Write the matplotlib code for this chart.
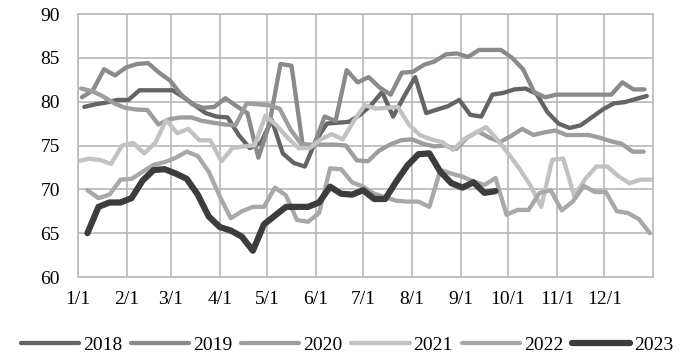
import matplotlib.pyplot as plt
import numpy as np

# weekly values by year
years = ['2018', '2019', '2020', '2021', '2022', '2023']

v2018 = [79.4, 79.7, 79.9, 80.2, 80.2, 81.3, 81.3, 81.3, 81.3, 80.5,
         79.6, 78.7, 78.3, 78.2, 76.2, 74.7, 75.3, 77.9, 74.1, 73.0,
         72.6, 75.6, 77.5, 77.6, 77.7, 78.5, 79.6, 81.1, 78.3, 80.6,
         82.8, 78.7, 79.1, 79.5, 80.2, 78.5, 78.3, 80.8, 81.0, 81.4,
         81.5, 80.9, 78.8, 77.5, 77.0, 77.3, 78.2, 79.1, 79.8, 79.95,
         80.3, 80.65]
v2019 = [80.5, 81.3, 83.7, 83.0, 83.9, 84.3, 84.4, 83.3, 82.4, 80.8,
         79.7, 79.3, 79.4, 80.4, 79.5, 78.7, 73.6, 77.5, 84.3, 84.1,
         75.2, 74.9, 78.3, 77.8, 83.6, 82.2, 82.8, 81.6, 80.8, 83.3,
         83.4, 84.2, 84.6, 85.4, 85.5, 85.1, 85.9, 85.9, 85.9, 85.0,
         83.7, 81.1, 80.5, 80.8, 80.8, 80.8, 80.8, 80.8, 80.8, 82.2,
         81.4, 81.4]
v2020 = [81.5, 81.2, 80.6, 79.8, 79.3, 79.1, 79.05, 77.4, 78.0, 78.2,
         78.2, 77.8, 77.6, 77.4, 77.3, 79.8, 79.7, 79.6, 79.2, 76.8,
         75.1, 75.1, 75.1, 75.1, 75.0, 73.3, 73.2, 74.4, 75.1, 75.6,
         75.7, 75.2, 74.9, 75.0, 74.6, 75.9, 76.6, 75.9, 75.4, 76.1,
         76.9, 76.2, 76.5, 76.7, 76.2, 76.2, 76.2, 75.9, 75.5, 75.2,
         74.3, 74.3]
v2021 = [73.2, 73.5, 73.35, 72.9, 75.0, 75.3, 74.1, 75.3, 77.9, 76.4,
         76.9, 75.6, 75.6, 73.2, 74.7, 74.9, 75.0, 78.4, 77.3, 75.9,
         74.7, 74.7, 75.7, 76.3, 75.7, 77.8, 79.6, 79.2, 79.3, 79.4,
         77.4, 76.2, 75.7, 75.4, 74.5, 75.7, 76.4, 77.1, 75.7, 74.1,
         72.4, 70.5, 68.0, 73.4, 73.5, 69.2, 71.2, 72.6, 72.6, 71.5,
         70.7, 71.1, 71.1]
v2022 = [69.9, 69.0, 69.4, 71.1, 71.2, 72.0, 72.8, 73.1, 73.6, 74.3,
         73.8, 72.0, 69.2, 66.7, 67.5, 68.0, 68.0, 70.2, 69.3, 66.5,
         66.3, 67.3, 72.4, 72.3, 70.8, 70.3, 69.5, 69.1, 68.7, 68.6,
         68.6, 68.0, 72.2, 71.8, 71.45, 70.9, 70.5, 71.3, 67.1, 67.65,
         67.65, 69.6, 69.9, 67.6, 68.6, 70.4, 69.7, 69.7, 67.5, 67.3,
         66.6, 65.0]
v2023 = [65.0, 68.0, 68.5, 68.5, 69.0, 71.0, 72.2, 72.3, 71.8, 71.2,
         69.4, 66.9, 65.7, 65.3, 64.6, 63.0, 66.0, 67.0, 68.0, 68.0,
         68.0, 68.5, 70.3, 69.5, 69.4, 69.9, 68.9, 68.9, 70.9, 72.7,
         74.0, 74.1, 72.0, 70.7, 70.2, 70.8, 69.6, 69.8]

# day of year of the first weekly reading in each year
first_day = [4, 2.5, 2, 0, 6, 6]

month_days = [0, 31, 59, 90, 120, 151, 181, 212, 243, 273, 304, 334]
month_labels = ['1/1', '2/1', '3/1', '4/1', '5/1', '6/1',
                '7/1', '8/1', '9/1', '10/1', '11/1', '12/1']

series = [v2018, v2019, v2020, v2021, v2022, v2023]
colors = ['#646464', '#8a8a8a', '#9d9d9d', '#c2c2c2', '#a8a8a8', '#3c3c3c']
widths = [3.1, 3.1, 3.1, 3.1, 3.1, 4.5]

plt.rcParams['font.family'] = ['Liberation Serif', 'DejaVu Serif']
plt.rcParams['font.size'] = 14

fig = plt.figure(figsize=(6.86, 3.59), dpi=100)
ax = fig.add_axes([0.1137, 0.2284, 0.952 - 0.1137, 0.961 - 0.2284])

for yr, vals, c, w, d0 in zip(years, series, colors, widths, first_day):
    x = d0 + 7 * np.arange(len(vals))
    ax.plot(x, vals, color=c, lw=w, label=yr, solid_capstyle='round',
            solid_joinstyle='round')

ax.set_xlim(0, 365)
ax.set_ylim(60, 90)
ax.set_yticks(range(60, 91, 5))
ax.set_xticks(month_days)
ax.set_xticklabels(month_labels)
ax.grid(True, color='#bdbdbd', lw=1.3)
ax.set_axisbelow(True)
for s in ax.spines.values():
    s.set_color('#bdbdbd')
    s.set_linewidth(1.3)
ax.tick_params(axis='both', length=0, labelsize=14, colors='black')
ax.tick_params(axis='y', pad=13)
ax.tick_params(axis='x', pad=10)

fig.legend(loc='center', bbox_to_anchor=(0.506, 0.039), ncol=6, frameon=False,
           handlelength=3.0, handletextpad=0.2, columnspacing=0.45,
           fontsize=14, borderaxespad=0)

fig.savefig('out.png', dpi=100)
